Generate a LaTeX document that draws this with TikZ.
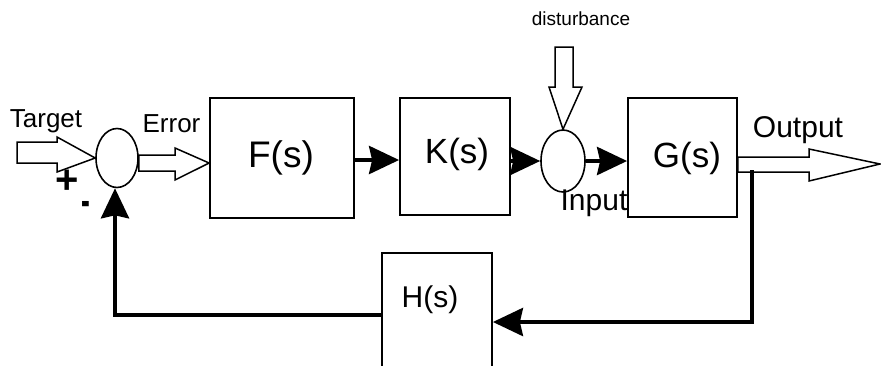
\documentclass[tikz,border=0pt]{standalone}
\usepackage{fontspec}
\setmainfont{Liberation Sans}
\usetikzlibrary{shapes.geometric,arrows.meta,calc}
\tikzset{
  blockbox/.style={draw, line width=1.8pt, rectangle, inner sep=0pt},
  sumnode/.style={draw, line width=1.6pt, ellipse, inner sep=0pt},
  hollow/.style={draw, line width=1.5pt, fill=white, line join=miter},
  sig/.style={line width=4pt, -{Stealth[length=30pt,width=28pt,inset=3pt]}},
  lbl/.style={inner sep=0pt, anchor=base},
}
\newcommand{\fsz}[1]{\fontsize{#1}{#1}\selectfont}
\begin{document}
\begin{tikzpicture}[x=1pt,y=-1pt]
\useasboundingbox (0,0) rectangle (881,365);
% blocks
\node[blockbox, minimum width=144pt, minimum height=120pt] (F) at (282,158) {};
\node[blockbox, minimum width=110pt, minimum height=117pt] (K) at (455,156.5) {};
\node[blockbox, minimum width=109pt, minimum height=119pt] (G) at (682.5,157.5) {};
\node[blockbox, minimum width=110pt, minimum height=130pt] (H) at (437,318) {};
% summing junctions
\node[sumnode, minimum width=42pt, minimum height=59pt] (J1) at (117,158) {};
\node[sumnode, minimum width=44pt, minimum height=62pt] (J2) at (563,161) {};
% block texts
\node[lbl] (Ft) at (281,167) {\fsz{37}F(s)};
\node[lbl] (Kt) at (457,163) {\fsz{35}K(s)};
\node[lbl] (Gt) at (687,167) {\fsz{35}G(s)};
\node[lbl] (Ht) at (430,307) {\fsz{30}H(s)};
% labels
\node[lbl] (target) at (46,127) {\fsz{26}Target};
\node[lbl] (error) at (171.5,132) {\fsz{26}Error};
\node[lbl] (output) at (798,137) {\fsz{30}Output};
\node[lbl] (input) at (594,210) {\fsz{30}Input};
\node[lbl] (dist) at (581,25) {\fsz{19}disturbance};
\node[inner sep=0pt] (plus) at (67,182) {\fsz{40}\bfseries +};
\node[inner sep=0pt] (minus) at (86,208) {\fsz{44}\bfseries\scalebox{0.6}[1]{-}};
% hollow arrows
\draw[hollow] (17,142) -- (57,142) -- (57,137) -- (J1.west) -- (57,172) -- (57,163) -- (17,163) -- cycle;
\draw[hollow] (J1.east |- 0,155) -- (175,155) -- (175,148) -- (F.west |- 0,163) -- (175,180) -- (175,171) -- (J1.east |- 0,171) -- cycle;
\draw[hollow] (G.east |- 0,157) -- (809,157) -- (809,149) -- (880,164) -- (809,181) -- (809,172) -- (G.east |- 0,172) -- cycle;
\draw[hollow] (555,47) -- (573,47) -- (573,87) -- (582,87) -- (J2.north) -- (549,87) -- (555,87) -- cycle;
% signal arrows
\draw[sig] (F.east |- 0,160) -- (K.west |- 0,160);
\draw[sig] (K.east |- J2.west) -- (J2.west);
\draw[sig] (J2.east) -- (G.west |- J2.east);
% feedback
\coordinate (tap) at (752,170);
\draw[sig] (tap) |- ([yshift=-4pt]H.east);
\draw[sig] ([yshift=3pt]H.west) -| ([xshift=-2pt]J1.south);
\end{tikzpicture}
\end{document}
